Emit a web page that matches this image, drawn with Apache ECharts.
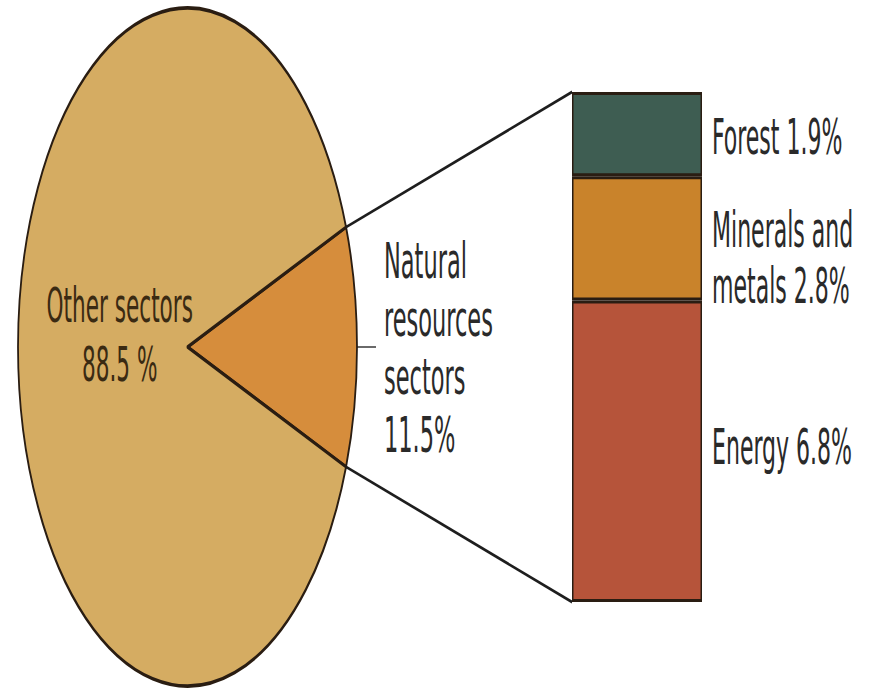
<!DOCTYPE html>
<html>
<head>
<meta charset="utf-8">
<script src="https://cdn.jsdelivr.net/npm/echarts@6/dist/echarts.min.js"></script>
<style>
  html, body { margin: 0; padding: 0; background: #ffffff; width: 869px; height: 690px; }
  #outer { width: 869px; height: 690px; position: relative; overflow: hidden; }
  /* The original graphic is a circular pie stretched 2x vertically */
  #wrap { position: absolute; left: 0; top: 0; width: 869px; height: 345px; transform: scaleY(2); transform-origin: 0 0; }
  #chart { width: 869px; height: 345px; }
</style>
</head>
<body>
<div id="outer"><div id="wrap"><div id="chart"></div></div></div>
<script>
// ---- data ----
const pieNames = ['Natural resources sectors', 'Other sectors'];
const pieValues = [11.5, 88.5];
const pieLabels = ['Natural\nresources\nsectors\n11.5%', 'Other sectors\n88.5 %'];

const barCategory = ['Natural resources'];
const barNames = ['Energy', 'Minerals and metals', 'Forest'];
const barValues = [6.8, 2.8, 1.9];
const barLabels = ['Energy 6.8%', 'Minerals and\nmetals 2.8%', 'Forest 1.9%'];

// ---- styles / layout ----
const FONT = "'Liberation Sans Narrow', 'DejaVu Sans Condensed', 'Arial Narrow', sans-serif";
const pieColors = ['#d68d3c', '#d5ac62'];
const barColors = ['#b6543a', '#c9832b', '#3e5d52'];
const barLabelOffsets = [[0, -2], [0, 10], [0, 1.5]];
const outline = '#2a1d12';
const pieCenter = [187.5, 173.5];
const pieRadius = 169.5;
const barGrid = { left: 572, top: 46, width: 130, height: 255 };

const natural = pieValues[0];
const total = pieValues[0] + pieValues[1];
const startAngle = natural / total * 360 / 2;
const barTotal = barValues.reduce((a, b) => a + b, 0);

const chart = echarts.init(document.getElementById('chart'), null, { renderer: 'svg' });

const barSeries = barNames.map((n, i) => ({
  name: n,
  type: 'bar',
  stack: 'nr',
  barWidth: '100%',
  data: [barValues[i]],
  itemStyle: { color: barColors[i], borderColor: outline, borderWidth: 1.5 },
  label: {
    show: true,
    position: 'right',
    distance: 10,
    offset: barLabelOffsets[i],
    formatter: () => barLabels[i],
    fontFamily: FONT,
    fontSize: 24.5,
    lineHeight: 28,
    color: '#2a2a2a',
    align: 'left'
  },
  silent: true
}));

const option = {
  animation: false,
  backgroundColor: '#ffffff',
  grid: { left: barGrid.left, top: barGrid.top, width: barGrid.width, height: barGrid.height, containLabel: false },
  xAxis: { type: 'category', data: barCategory, show: false },
  yAxis: { type: 'value', min: 0, max: barTotal, show: false },
  series: [
    {
      type: 'pie',
      center: pieCenter,
      radius: pieRadius,
      startAngle: startAngle,
      clockwise: true,
      avoidLabelOverlap: false,
      silent: true,
      itemStyle: { borderColor: outline, borderWidth: 1.8 },
      labelLayout: function (p) {
        return p.dataIndex === 1 ? { dx: 10, dy: -3 } : {};
      },
      data: pieNames.map((n, i) => ({
        name: n,
        value: pieValues[i],
        itemStyle: { color: pieColors[i] },
        label: i === 0 ? {
          show: true,
          position: 'outside',
          formatter: () => pieLabels[0],
          fontFamily: FONT,
          fontSize: 25,
          lineHeight: 29,
          color: '#2a2a2a',
          align: 'left',
          distanceToLabelLine: 8
        } : {
          show: true,
          position: 'inside',
          formatter: () => pieLabels[1],
          fontFamily: FONT,
          fontSize: 24,
          lineHeight: 29.5,
          color: '#3a2a12',
          align: 'center'
        },
        labelLine: i === 0 ? {
          show: true,
          length: 19,
          length2: 0,
          lineStyle: { color: '#6a6a6a', width: 1 }
        } : { show: false }
      }))
    },
    ...barSeries
  ]
};

chart.setOption(option);

// connector lines from the wedge edge to the bar corners, derived from the layout
const half = natural / total * Math.PI;
const ex = pieCenter[0] + pieRadius * Math.cos(half);
const eyTop = pieCenter[1] - pieRadius * Math.sin(half);
const eyBot = pieCenter[1] + pieRadius * Math.sin(half);
const topPx = chart.convertToPixel({ xAxisIndex: 0, yAxisIndex: 0 }, [barCategory[0], barTotal]);
const botPx = chart.convertToPixel({ xAxisIndex: 0, yAxisIndex: 0 }, [barCategory[0], 0]);
const barLeft = topPx[0] - barGrid.width / 2;

chart.setOption({
  graphic: [
    { type: 'line', silent: true, z: 10, shape: { x1: ex, y1: eyTop, x2: barLeft, y2: topPx[1] }, style: { stroke: '#1e1e1e', lineWidth: 1.5 } },
    { type: 'line', silent: true, z: 10, shape: { x1: ex, y1: eyBot, x2: barLeft, y2: botPx[1] }, style: { stroke: '#1e1e1e', lineWidth: 1.5 } }
  ]
});
</script>
</body>
</html>
